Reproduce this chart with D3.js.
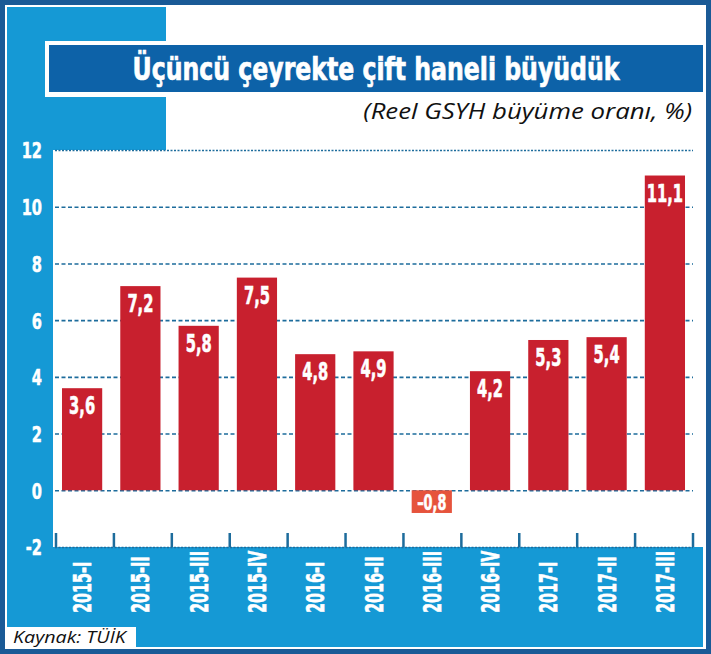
<!DOCTYPE html>
<html><head><meta charset="utf-8">
<script src="https://cdn.jsdelivr.net/npm/d3@7"></script>
<style>body{margin:0;background:#fff}svg{display:block}</style>
</head><body>
<svg id="c" width="711" height="654"></svg>
<script>
const categories = ["2015-I","2015-II","2015-III","2015-IV","2016-I","2016-II","2016-III","2016-IV","2017-I","2017-II","2017-III"];
const values = [3.6, 7.2, 5.8, 7.5, 4.8, 4.9, -0.8, 4.2, 5.3, 5.4, 11.1];
const yTicks = [-2, 0, 2, 4, 6, 8, 10, 12];
const titleText = "Üçüncü çeyrekte çift haneli büyüdük";
const subtitleText = "(Reel GSYH büyüme oranı, %)";
const sourceText = "Kaynak: TÜİK";

const COND = "'DejaVu Sans Condensed','DejaVu Sans',sans-serif";
const LIGHT = "#1599d5", DARK = "#0d62a8", BORDER = "#1a5a96", GRID = "#1d6c9c";
const RED = "#c8202e", NEG = "#e6533c";

const svg = d3.select("#c");

// fit a text horizontally to a target width with a scale transform
function fitText(sel, x0, y0, width, anchor) {
  const len = sel.node().getComputedTextLength();
  const s = width / len;
  sel.attr("x", 0).attr("y", 0).attr("text-anchor", anchor)
     .attr("transform", `translate(${x0},${y0}) scale(${s},1)`);
}

// frame
svg.append("rect").attr("x",0).attr("y",0).attr("width",711).attr("height",654).attr("fill",BORDER);
svg.append("rect").attr("x",5).attr("y",5).attr("width",701).attr("height",644).attr("fill","#fff");
// light blue L areas
svg.append("rect").attr("x",7).attr("y",7).attr("width",159).attr("height",143).attr("fill",LIGHT);
svg.append("rect").attr("x",7).attr("y",7).attr("width",46).attr("height",640).attr("fill",LIGHT);
svg.append("rect").attr("x",7).attr("y",547).attr("width",696).attr("height",100).attr("fill",LIGHT);

// title banner
svg.append("rect").attr("x",45).attr("y",41).attr("width",660).attr("height",56).attr("fill","#fff");
svg.append("rect").attr("x",49).attr("y",45).attr("width",654).attr("height",47).attr("fill",DARK);
const title = svg.append("text")
  .attr("font-family",COND).attr("font-weight","bold").attr("font-size",32)
  .attr("fill","#fff").attr("stroke","#fff").attr("stroke-width",0.7).text(titleText);
fitText(title, 376, 80, 487, "middle");
const sub = svg.append("text")
  .attr("font-family","'Open Sans','DejaVu Sans',sans-serif").attr("font-style","italic").attr("font-size",21)
  .attr("fill","#111").text(subtitleText);
fitText(sub, 692, 119, 329, "end");

// scales
const x = d3.scaleBand().domain(categories).range([55,692]).paddingInner(0.31).paddingOuter(0.12);
const y = d3.scaleLinear().domain([-2,12]).range([547,150]);

// grid lines
const gAxis = svg.append("g").attr("transform","translate(55,0)")
  .call(d3.axisLeft(y).tickValues(yTicks).tickSize(-638).tickFormat(d=>d));
gAxis.select(".domain").remove();
gAxis.selectAll(".tick line").attr("stroke",GRID).attr("stroke-width",1.6)
  .attr("stroke-dasharray",d=> (d===12||d===-2) ? "2,1.5" : "4,2.5");
gAxis.selectAll(".tick text").attr("x",0).attr("dy","0.36em")
  .attr("transform","translate(-13,0) scale(0.74,1)")
  .attr("text-anchor","end").attr("fill","#fff").attr("stroke","#fff").attr("stroke-width",0.5)
  .attr("font-family",COND).attr("font-weight","bold").attr("font-size",22);

// bottom category ticks
const step = (692-55)/categories.length;
const bounds = d3.range(categories.length+1).map(i => 56 + i*step);
svg.append("g").selectAll("line").data(bounds).join("line")
  .attr("x1",d=>d).attr("x2",d=>d).attr("y1",y(-2)-14).attr("y2",y(-2))
  .attr("stroke",GRID).attr("stroke-width",2.5);

// bars
svg.append("g").selectAll("rect").data(values).join("rect")
  .attr("x",(d,i)=>x(categories[i]))
  .attr("width",x.bandwidth())
  .attr("y",d=>y(Math.max(0,d)))
  .attr("height",d=>Math.abs(y(d)-y(0)))
  .attr("fill",d=> d<0 ? NEG : RED);

// bar labels
const fmt = v => (v<0 ? "–" : "") + Math.abs(v).toFixed(1).replace(".",",");
svg.append("g").selectAll("text").data(values).join("text")
  .attr("transform",(d,i)=>{
    const cx = x(categories[i]) + x.bandwidth()/2;
    const by = d<0 ? y(d) - 3 : y(d) + 26;
    return `translate(${cx},${by}) scale(0.68,1)`;
  })
  .attr("text-anchor","middle").attr("fill","#fff").attr("stroke","#fff").attr("stroke-width",0.6)
  .attr("font-family",COND).attr("font-weight","bold")
  .attr("font-size",d=> d<0 ? 21 : 24)
  .text(fmt);

// category labels (rotated)
svg.append("g").selectAll("text").data(categories).join("text")
  .attr("transform",d=>`translate(${x(d)+x.bandwidth()/2},613) rotate(-90) scale(0.64,1)`)
  .attr("dy","0.36em").attr("text-anchor","start").attr("fill","#fff").attr("stroke","#fff").attr("stroke-width",0.6)
  .attr("font-family",COND).attr("font-weight","bold").attr("font-size",25)
  .text(d=>d);

// source box
svg.append("rect").attr("x",7).attr("y",627).attr("width",129).attr("height",21).attr("fill","#fff");
const src = svg.append("text")
  .attr("font-family","'Open Sans','DejaVu Sans',sans-serif").attr("font-style","italic").attr("font-size",17)
  .attr("fill","#111").text(sourceText);
fitText(src, 13, 643, 113, "start");
</script>
</body></html>
